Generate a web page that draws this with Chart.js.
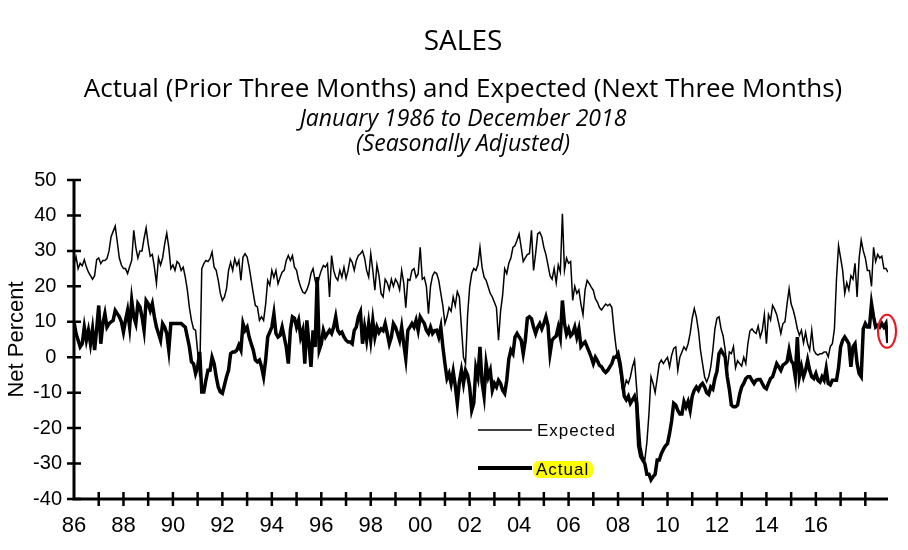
<!DOCTYPE html>
<html>
<head>
<meta charset="utf-8">
<script src="https://cdn.jsdelivr.net/npm/chart.js@4.4.1/dist/chart.umd.min.js"></script>
<style>
  html, body { margin: 0; padding: 0; background: #fff; }
  #wrap { width: 908px; height: 550px; position: relative; }
</style>
</head>
<body>
<div id="wrap"><canvas id="chart"></canvas></div>
<script>
const startYear = 1986;

const titleLines = [
    "SALES",
    "Actual (Prior Three Months) and Expected (Next Three Months)",
    "January 1986 to December 2018",
    "(Seasonally Adjusted)",
];

// monthly, Jan 1986 .. Dec 2018, one row per year
const expected = [
    26.4, 28.3, 25, 26.5, 25.8, 27.5, 25.5, 24, 23, 22, 23, 27.5, // 86
    28, 26.4, 27.3, 27.3, 27.8, 30, 34, 35.5, 37, 32.5, 28, 26, // 87
    25, 25, 23.6, 25.5, 27.3, 35.8, 31, 28, 30, 30, 33.5, 36.5, // 88
    32, 28.5, 29, 25.5, 20.8, 28, 26, 28, 32, 35, 31, 25, // 89
    26, 24.5, 27, 26.4, 24.5, 25.4, 22.6, 19, 14, 10.4, 8, 7.6, // 90
    1.5, -5.5, 25, 26.4, 27.3, 27, 27.8, 29.7, 25.4, 24.5, 21.7, 18, // 91
    16, 17, 19.3, 24.5, 26.8, 24.5, 27.8, 25.9, 27.3, 21.7, 28.2, 29.2, // 92
    28.3, 25.4, 21.7, 18, 14.6, 14.2, 10.4, 11.4, 10.4, 15, 21.7, 20.3, // 93
    24.5, 22.5, 24.5, 20.7, 22.5, 24, 24.5, 27.3, 28.7, 27.3, 28.7, 25.4, // 94
    24.5, 21.7, 19.8, 18.4, 18, 19, 20.7, 23.6, 25, 21.7, 19.8, 22.6, // 95
    24.5, 25.9, 25.4, 26.4, 17, 28.7, 24.5, 22.6, 21.7, 24.5, 22.6, 25.4, // 96
    22.2, 24.5, 27.8, 26.8, 24.5, 27.3, 28.7, 29.2, 30, 28, 24.5, 22.6, // 97
    29.2, 24.5, 18.9, 26, 23, 18, 17, 22, 21, 19, 22, 20, // 98
    22, 21, 19, 24.5, 21, 14, 22, 21.7, 24.5, 25, 22.5, 23.5, // 99
    31, 22, 22.5, 20, 12.3, 20, 23, 24, 23.6, 21.7, 18, 14.5, // 00
    9.5, 11.4, 14, 13, 17, 14.5, 18.5, 17, 8.5, 0, -1.8, 12, // 01
    19.8, 23.6, 25, 24.5, 26, 31, 25.4, 22.6, 21.7, 19.8, 18, 17, // 02
    15.5, 14, 4.8, 13, 17.5, 25, 23.6, 26.5, 28, 31, 31.5, 33, // 03
    34.8, 31, 27, 28, 29, 29.2, 35.8, 24.5, 29.2, 34.8, 35.3, 34, // 04
    31, 29, 26, 23, 22, 25, 21, 26, 24, 40.5, 24.5, 28, // 05
    26.5, 27, 16, 20, 18, 19, 15, 12, 19, 21.7, 20.8, 19.8, // 06
    18.9, 16.5, 15.5, 14, 13.3, 14.2, 15, 14.5, 15, 14, 8, 3, // 07
    -0.8, -4, -9, -9, -6.5, -7.4, -5.5, -2.7, -0.8, -8.5, -17, -25, // 08
    -28, -29, -24, -16, -5.5, -7.4, -10, -6, -1.8, -0.8, -1.8, -0.8, // 09
    0, -2.7, 0.5, 2.5, 2.9, -3.7, 0, 1.5, 2.9, 2, 3.8, 6.7, // 10
    11, 13.7, 11.4, 7.6, 2, -1.8, -5.5, -7, -5.5, -2.7, 2, 8, // 11
    11, 11.4, 8, 6, 2, -3.7, 1.5, 1, 3, -3, -1, -1.8, // 12
    -2.5, 0, -1.8, 3.8, 7.4, 8, 7.2, 6.7, 8.8, 5.7, 7.6, 12, // 13
    3.8, 12, 10.5, 14.6, 13.5, 12, 9.5, 6.7, 9.5, 10, 15, 19.3, // 14
    15, 13.3, 11, 8, 6.2, 7.6, 4, 7, 3.8, 2, 7.6, 2, // 15
    1, 0.6, 1, 1, 1.5, 1.5, 0.1, 3, 3.8, 8, 22, 31.5, // 16
    28, 24.5, 18, 21, 19, 23, 22, 26.5, 17, 28, 33, 30, // 17
    28, 24.5, 24.5, 20, 31, 27, 29, 28, 28.5, 25, 25, 24, // 18
];

const actual = [
    10, 6.7, 4.8, 2.9, 3.8, 8.5, 4.8, 7.6, 3.8, 8, 2, 8, // 86
    14.6, 3.8, 9.5, 12.3, 8.5, 9.5, 10, 10.4, 13.2, 12.3, 11.4, 10, // 87
    7.1, 10.4, 13.2, 8.5, 16, 11.4, 9.5, 15.1, 14.2, 11.4, 7.6, 16, // 88
    15.1, 13.2, 15.1, 11.4, 8.5, 6.7, 4.8, 9.5, 8.5, 6.7, 2, 9.5, // 89
    9.5, 9.5, 9.5, 9.5, 9.5, 9, 8.5, 5.7, 2.9, -1.3, -1.8, -4.6, // 90
    -2.7, 1.5, -9.8, -9.8, -6.5, -3.7, -3.7, 0, -1.8, -5.5, -8.4, -9.8, // 91
    -10.2, -7.9, -5.5, -3.7, 1, 1.5, 1.5, 2, 3.4, 2, 9.5, 7.6, // 92
    8.5, 5.7, 3.8, 2, -0.8, -1.3, -0.8, -2.7, -5.5, -0.8, 5.7, 7.1, // 93
    8.5, 12.3, 6.7, 5.7, 6.2, 8.5, 5.7, 2.9, -1.8, 7.6, 11.4, 11, // 94
    8.5, 10.4, 5.7, 7.6, -1.8, 10.4, 3.8, -2.7, 7.6, 2.9, 22.6, 2, // 95
    3.8, 7.6, 5.7, 6.7, 7.6, 6.7, 8.5, 11.4, 7.6, 6.7, 7.1, 5.7, // 96
    4.8, 4.3, 4.3, 3.8, 7.6, 8.5, 11.4, 12.8, 3.8, 8.5, 4.8, 9.5, // 97
    4.8, 10.4, 5.7, 8.5, 7, 8, 7.5, 9.5, 6.7, 3.8, 5.7, 9.5, // 98
    8.5, 6.7, 4.8, 8.5, 3.8, -0.4, 7.6, 8.5, 9.5, 8.5, 10.4, 7.6, // 99
    11.4, 10.4, 9.5, 7.6, 6.7, 8.5, 6.7, 7.5, 7.6, 5.7, 8.5, 2.9, // 00
    -1.8, -6, -4.6, -7.4, -4, -8, -13, -7, -3.7, -7.4, -3.7, -5, // 01
    -8.4, -15, -13, -3, -5.5, 2.9, -7, -11, -1.8, -5.5, -3.7, -9.3, // 02
    -7.4, -8.4, -6.5, -7.4, -9.3, -10.2, -6.5, -0.5, 2, 1, 5.7, 6.7, // 03
    5.7, 4.8, 1, 4.8, 11, 11.4, 10.9, 8.5, 6.7, 8.5, 9.5, 8, // 04
    9.5, 11.4, 9, 1, 4.8, 5.5, 6, 8.5, 5.7, 16, 9.5, 6.5, // 05
    8, 6, 6.7, 8.5, 5.7, 8, 3, 3.8, 4.3, 2.9, 1.5, 0, // 06
    -1.8, 0, -1, -2.3, -2.7, -3.7, -4.3, -3.7, -2.7, -1.8, 0, 0, // 07
    1, -1.8, -6, -11, -12, -11, -13, -12, -11, -13, -25, -28, // 08
    -29, -30, -33, -33, -34.6, -33.7, -33, -29, -29, -27.2, -26, -25, // 09
    -24.4, -21.5, -18, -13, -13.5, -15, -16, -16, -12.5, -14, -12.5, -15, // 10
    -11, -9.3, -8.4, -9.3, -8, -7.4, -8.4, -10, -10.5, -8.4, -9, -6, // 11
    -4, 1, 2, 1, 0, -5.5, -9, -13.5, -14, -14, -13.5, -10.5, // 12
    -8.4, -7.4, -6, -5.5, -5.5, -6.5, -7.4, -6.5, -6.3, -6.3, -7.4, -8.5, // 13
    -8.9, -7.4, -6, -5.5, -3.7, -1.8, -2.7, -3.7, -2.2, -1.8, -1.3, 2, // 14
    -1, -1.8, -5.5, 5.7, -5.5, -2.7, -5.5, -3.7, -0.8, -3.7, -5.5, -6, // 15
    -4.6, -6.5, -7, -5.5, -6.5, -3.2, -7.4, -7.8, -6.5, -6.5, -6.5, -3, // 16
    2.9, 4.8, 5.7, 4.8, 3.8, -2.7, 2.9, 3.8, -1.8, -4.6, -5.5, 8, // 17
    9.5, 8.5, 8.5, 15.1, 11.4, 8.5, 9, 8.5, 9.5, 8.5, 9.5, 4, // 18
];

const yMin = -40, yMax = 50, yStep = 10;
const labeledYears = [1986, 1988, 1990, 1992, 1994, 1996, 1998, 2000, 2002, 2004, 2006, 2008, 2010, 2012, 2014, 2016];

function toPoints(arr) {
    return arr.map((v, i) => ({ x: startYear + i / 12, y: v }));
}

// titles, axes with crossing ticks, legend box and the red marker on the latest reading
const decor = {
    id: "decor",
    afterDraw(chart) {
        const { ctx, chartArea: a, scales } = chart;
        const x = scales.x, y = scales.y;
        ctx.save();
        ctx.fillStyle = "#000";
        ctx.textAlign = "center";
        ctx.textBaseline = "alphabetic";
        ctx.font = '28px "Open Sans"';
        ctx.fillText(titleLines[0], 463, 50);
        ctx.font = '26px "Open Sans"';
        ctx.fillText(titleLines[1], 463, 97);
        ctx.font = 'italic 23px "Open Sans"';
        ctx.fillText(titleLines[2], 463, 126);
        ctx.fillText(titleLines[3], 463, 151);

        ctx.strokeStyle = "#000";
        ctx.lineWidth = 3;
        ctx.beginPath();
        ctx.moveTo(a.left, a.top);
        ctx.lineTo(a.left, a.bottom);
        ctx.lineTo(a.right, a.bottom);
        ctx.stroke();
        ctx.lineWidth = 2.5;
        ctx.beginPath();
        for (let v = yMin; v <= yMax; v += yStep) {
            const py = y.getPixelForValue(v);
            ctx.moveTo(a.left - 7, py);
            ctx.lineTo(a.left + 7, py);
        }
        for (let yr = startYear + 1; yr <= 2018; yr++) {
            const px = x.getPixelForValue(yr);
            ctx.moveTo(px, a.bottom - 7);
            ctx.lineTo(px, a.bottom + 7);
        }
        ctx.stroke();

        // legend
        const sets = chart.data.datasets;
        ctx.textAlign = "left";
        ctx.textBaseline = "middle";
        ctx.font = '17px "Liberation Sans"';
        ctx.letterSpacing = "1px";
        ctx.lineWidth = sets[0].borderWidth;
        ctx.beginPath();
        ctx.moveTo(478, 430);
        ctx.lineTo(532, 430);
        ctx.stroke();
        ctx.fillText(sets[0].label, 537, 431);

        ctx.lineWidth = sets[1].borderWidth + 0.5;
        ctx.beginPath();
        ctx.moveTo(478, 468);
        ctx.lineTo(532, 468);
        ctx.stroke();
        ctx.fillStyle = "#ffff00";
        ctx.beginPath();
        ctx.roundRect(533, 461, 60, 17, 6);
        ctx.fill();
        ctx.fillStyle = "#000";
        ctx.fillText(sets[1].label, 536, 470);
        ctx.letterSpacing = "0px";

        // red ring around the last readings
        const n = actual.length;
        const cx = x.getPixelForValue(startYear + (n - 1) / 12);
        const cy = y.getPixelForValue((actual[n - 1] + actual[n - 2] + actual[n - 3]) / 3);
        ctx.strokeStyle = "#e8141e";
        ctx.lineWidth = 2;
        ctx.beginPath();
        ctx.ellipse(cx - 1, cy, 9, 16.5, 0, 0, Math.PI * 2);
        ctx.stroke();
        ctx.restore();
    },
};

new Chart(document.getElementById("chart"), {
    type: "line",
    data: {
        datasets: [
            {
                label: "Expected",
                data: toPoints(expected),
                borderColor: "#000",
                borderWidth: 1.5,
                pointRadius: 0,
                tension: 0,
            },
            {
                label: "Actual",
                data: toPoints(actual),
                borderColor: "#000",
                borderWidth: 3.5,
                pointRadius: 0,
                tension: 0,
            },
        ],
    },
    options: {
        responsive: true,
        maintainAspectRatio: false,
        animation: false,
        layout: { padding: { top: 180, right: 20, left: 0, bottom: 0 } },
        plugins: {
            legend: { display: false },
            tooltip: { enabled: false },
        },
        scales: {
            x: {
                type: "linear",
                min: startYear,
                max: startYear + (expected.length - 1) / 12,
                afterFit: (s) => { s.height = 51; },
                grid: { display: false, drawTicks: false },
                border: { display: false },
                ticks: {
                    stepSize: 1,
                    autoSkip: false,
                    maxRotation: 0,
                    padding: 14,
                    color: "#000",
                    font: { family: "Liberation Sans", size: 22 },
                    callback: (v) => labeledYears.includes(v) ? String(v % 100).padStart(2, "0") : "",
                },
            },
            y: {
                min: yMin,
                max: yMax,
                afterFit: (s) => { s.width = 74; },
                grid: { display: false, drawTicks: false },
                border: { display: false },
                title: {
                    display: true,
                    text: "Net Percent",
                    color: "#000",
                    font: { family: "Liberation Sans", size: 22 },
                    padding: { top: 4, bottom: 0 },
                },
                ticks: {
                    stepSize: yStep,
                    padding: 12,
                    color: "#000",
                    font: { family: "Liberation Sans", size: 20 },
                    callback: (v) => v >= 0 ? v + " " : String(v),
                },
            },
        },
    },
    plugins: [decor],
});
</script>
</body>
</html>
